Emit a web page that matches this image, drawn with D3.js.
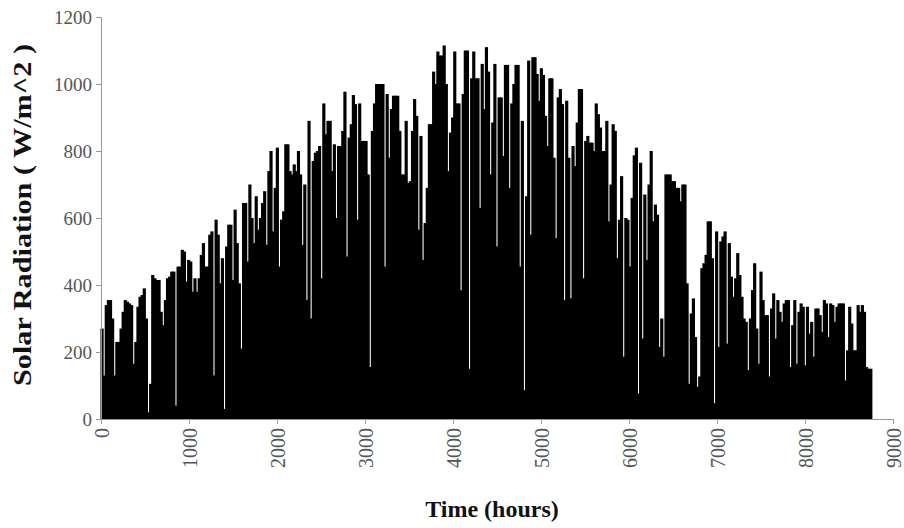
<!DOCTYPE html>
<html>
<head>
<meta charset="utf-8">
<script src="https://cdn.jsdelivr.net/npm/d3@7"></script>
<style>
    body { margin: 0; background: #fff; }
    #chart svg { display: block; }
    .tick text { font-family: "Liberation Serif", "Times New Roman", serif; fill: #555; }
    .axis-title { font-family: "Liberation Serif", "Times New Roman", serif; font-weight: bold; fill: #111; }
</style>
</head>
<body>
<div id="chart"></div>
<script>
// Daily peak solar radiation (W/m^2), one value per day of the year
const dailyPeak = [
    270, 130, 340, 355, 355, 300, 130, 230, 230, 270, 320, 355, 350, 345, 340, 165, 230, 335, 365, 370,
    390, 300, 20, 105, 430, 420, 415, 415, 320, 280, 355, 420, 425, 440, 440, 40, 455, 455, 505, 500,
    410, 475, 470, 380, 420, 380, 420, 490, 525, 455, 455, 550, 560, 130, 595, 550, 405, 480, 30, 515,
    580, 580, 415, 625, 525, 405, 210, 645, 645, 470, 700, 600, 525, 665, 565, 600, 645, 680, 520, 740,
    800, 560, 690, 810, 455, 595, 620, 820, 820, 740, 730, 760, 740, 800, 730, 520, 700, 355, 890, 300,
    770, 795, 800, 815, 420, 942, 850, 890, 890, 740, 820, 600, 815, 815, 860, 977, 485, 840, 880, 967,
    940, 595, 942, 830, 830, 830, 730, 155, 860, 942, 1000, 1000, 1000, 1000, 455, 970, 780, 925, 965, 965,
    965, 860, 730, 730, 890, 705, 710, 860, 955, 905, 565, 845, 475, 585, 690, 880, 880, 1037, 1000, 1097,
    1085, 1085, 1115, 1000, 740, 855, 900, 1097, 942, 942, 384, 970, 1100, 1100, 150, 1017, 1097, 1017, 1017, 630,
    1060, 925, 1110, 1037, 730, 885, 1060, 515, 960, 960, 785, 1057, 1057, 690, 942, 1000, 1057, 1057, 455, 890,
    86, 665, 1070, 550, 1080, 1080, 1030, 950, 1047, 1027, 905, 815, 1017, 1017, 780, 540, 960, 985, 940, 355,
    950, 780, 360, 815, 755, 885, 985, 985, 420, 830, 845, 825, 825, 800, 942, 910, 870, 800, 800, 890,
    590, 700, 880, 860, 480, 595, 725, 186, 600, 595, 455, 660, 787, 810, 76, 765, 240, 670, 475, 700,
    800, 590, 640, 610, 215, 300, 186, 730, 730, 730, 710, 710, 690, 690, 650, 700, 700, 405, 105, 315,
    360, 245, 96, 127, 450, 465, 490, 590, 590, 480, 47, 560, 215, 530, 545, 560, 225, 525, 425, 365,
    420, 495, 430, 365, 300, 290, 146, 300, 385, 465, 270, 165, 440, 355, 310, 310, 127, 330, 375, 240,
    355, 320, 290, 345, 355, 355, 155, 280, 355, 165, 320, 345, 335, 160, 335, 255, 290, 186, 330, 330,
    310, 260, 355, 345, 245, 345, 340, 290, 335, 345, 345, 345, 115, 205, 335, 285, 205, 205, 340, 320,
    340, 320, 155, 150, 150
];

const hoursPerDay = 24;
const xTicks = [0, 1000, 2000, 3000, 4000, 5000, 6000, 7000, 8000, 9000];
const yTicks = [0, 200, 400, 600, 800, 1000, 1200];
const xTitle = "Time (hours)";
const yTitle = "Solar Radiation ( W/m^2 )";

function createChart() {
    const width = 904, height = 528;
    const margin = { top: 17, right: 11, bottom: 109, left: 101 };

    const svg = d3.select("#chart")
        .append("svg")
        .attr("width", width)
        .attr("height", height);

    const xScale = d3.scaleLinear().domain([0, 9000]).range([margin.left, width - margin.right]);
    const yScale = d3.scaleLinear().domain([0, 1200]).range([height - margin.bottom, margin.top]);

    // one bar per day, a bit wider than the day so only short days leave a thin gap
    const dayWidth = xScale(hoursPerDay) - xScale(0);
    const barWidth = dayWidth * 1.5;

    svg.append("g")
        .selectAll("rect")
        .data(dailyPeak)
        .enter()
        .append("rect")
        .attr("x", (d, i) => xScale(i * hoursPerDay + hoursPerDay / 2) - barWidth / 2)
        .attr("y", d => yScale(d))
        .attr("width", barWidth)
        .attr("height", d => yScale(0) - yScale(d))
        .attr("fill", "#000");

    // Axes
    const xAxis = svg.append("g")
        .attr("transform", `translate(0,${yScale(0)})`)
        .call(d3.axisBottom(xScale).tickValues(xTicks).tickSize(5).tickSizeOuter(0).tickFormat(d3.format("d")));

    xAxis.selectAll(".tick text")
        .attr("transform", "rotate(-90)")
        .attr("x", -9)
        .attr("y", 0)
        .attr("dy", "0.35em")
        .style("text-anchor", "end")
        .style("font-size", "20px");

    const yAxis = svg.append("g")
        .attr("transform", `translate(${xScale(0)},0)`)
        .call(d3.axisLeft(yScale).tickValues(yTicks).tickSize(5).tickSizeOuter(0).tickFormat(d3.format("d")));

    yAxis.selectAll(".tick text")
        .attr("x", -9)
        .style("font-size", "19px");

    svg.selectAll(".domain, .tick line").attr("stroke", "#999");

    // Titles
    svg.append("text")
        .attr("class", "axis-title")
        .attr("text-anchor", "middle")
        .attr("x", (xScale(0) + xScale(9000)) / 2 - 5)
        .attr("y", 517)
        .style("font-size", "24px")
        .text(xTitle);

    svg.append("text")
        .attr("class", "axis-title")
        .attr("text-anchor", "middle")
        .attr("transform", "translate(31,215) rotate(-90)")
        .attr("textLength", 342)
        .attr("lengthAdjust", "spacingAndGlyphs")
        .style("font-size", "25px")
        .text(yTitle);
}

createChart();
</script>
</body>
</html>
